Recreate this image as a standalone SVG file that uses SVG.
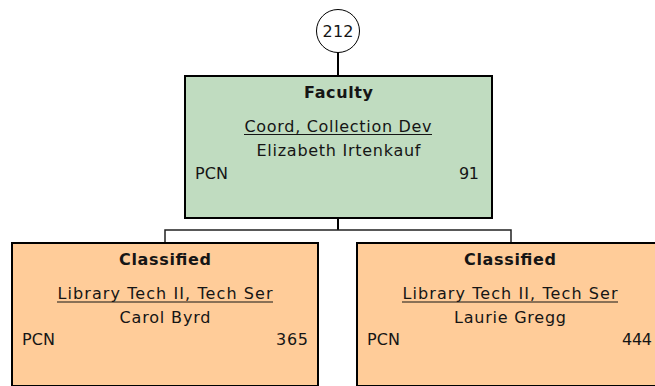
<svg xmlns="http://www.w3.org/2000/svg" width="655" height="386" viewBox="0 0 655 386">
<style>
text{font-family:"DejaVu Sans",Verdana,sans-serif;font-size:16px;fill:#151515}
.t{font-weight:bold;text-anchor:middle}
.c{text-anchor:middle}
.r{text-anchor:end}
.ul{stroke:#151515;stroke-width:1.2}
.fac{fill:#C0DCC0;stroke:#000;stroke-width:2}
.cls{fill:#FFCC99;stroke:#000;stroke-width:2}
.ln{fill:none;stroke:#000;stroke-width:2}
.hl{fill:none;stroke:#222;stroke-width:1.5}
</style>
<g id="connectors">
<line class="ln" x1="338" y1="52" x2="338" y2="76"/>
<line class="ln" x1="338" y1="218" x2="338" y2="230"/>
<polyline class="hl" points="165,243 165,230 511,230 511,243"/>
</g>
<g id="count">
<circle cx="338" cy="31" r="21.5" fill="#fff" stroke="#000" stroke-width="1"/>
<text class="c" x="338" y="37" textLength="31" lengthAdjust="spacing">212</text>
</g>
<g id="faculty">
<rect class="fac" x="185" y="76" width="307" height="142"/>
<text class="t" x="338.5" y="98" textLength="69" lengthAdjust="spacing">Faculty</text>
<text class="c" x="338" y="132" textLength="187" lengthAdjust="spacing">Coord, Collection Dev</text>
<line class="ul" x1="244" y1="134.5" x2="432" y2="134.5"/>
<text class="c" x="338.5" y="156" textLength="164" lengthAdjust="spacing">Elizabeth Irtenkauf</text>
<text x="195" y="179" textLength="33" lengthAdjust="spacing">PCN</text>
<text class="r" x="479" y="179" textLength="20" lengthAdjust="spacing">91</text>
</g>
<g id="classified1">
<rect class="cls" x="12" y="243" width="306" height="143"/>
<text class="t" x="165" y="265" textLength="92" lengthAdjust="spacing">Classified</text>
<text class="c" x="165" y="299" textLength="215" lengthAdjust="spacing">Library Tech II, Tech Ser</text>
<line class="ul" x1="57" y1="302" x2="273" y2="302"/>
<text class="c" x="165" y="323" textLength="91" lengthAdjust="spacing">Carol Byrd</text>
<text x="22" y="345" textLength="33" lengthAdjust="spacing">PCN</text>
<text class="r" x="308" y="345" textLength="32" lengthAdjust="spacing">365</text>
</g>
<g id="classified2">
<rect class="cls" x="357" y="243" width="306" height="143"/>
<text class="t" x="510" y="265" textLength="92" lengthAdjust="spacing">Classified</text>
<text class="c" x="510" y="299" textLength="215" lengthAdjust="spacing">Library Tech II, Tech Ser</text>
<line class="ul" x1="402" y1="302" x2="618" y2="302"/>
<text class="c" x="510" y="323" textLength="112" lengthAdjust="spacing">Laurie Gregg</text>
<text x="367" y="345" textLength="33" lengthAdjust="spacing">PCN</text>
<text class="r" x="652" y="345" textLength="30" lengthAdjust="spacing">444</text>
</g>
</svg>
